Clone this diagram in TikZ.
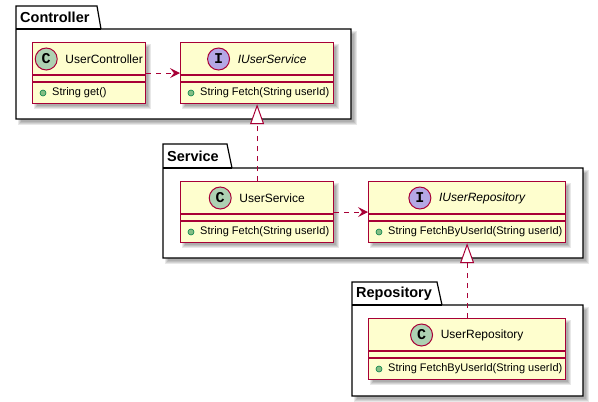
\documentclass[tikz,border=0pt]{standalone}
\usepackage{fontspec}
\setmainfont{Liberation Sans}
\newfontfamily\circfont{Liberation Mono}
\usetikzlibrary{arrows.meta}
\definecolor{clsfill}{HTML}{FEFECE}
\definecolor{clsborder}{HTML}{A80036}
\definecolor{ccirc}{HTML}{ADD1B2}
\definecolor{icirc}{HTML}{B4A7E5}
\definecolor{dotfill}{HTML}{84BE84}
\definecolor{dotborder}{HTML}{038048}
\tikzset{
 clsbox/.style={draw=clsborder, fill=clsfill, line width=1.2pt, inner sep=0pt, anchor=north west},
 pkg/.style={draw=black, fill=white, line width=1.2pt},
 sepline/.style={draw=clsborder, line width=1.2pt},
 circ/.style={circle, draw=clsborder, line width=1pt, minimum size=22pt, inner sep=0pt, font=\circfont\bfseries\fontsize{15}{15}\selectfont},
 cname/.style={anchor=center, inner sep=0pt, font=\fontsize{12}{14}\selectfont},
 member/.style={anchor=west, inner sep=0pt, font=\fontsize{11}{13}\selectfont},
 mdot/.style={circle, draw=dotborder, fill=dotfill, line width=0.6pt, minimum size=6pt, inner sep=0pt},
 dep/.style={draw=clsborder, line width=1pt, dash pattern=on 5pt off 5pt, -{Stealth[length=10pt,width=10pt,inset=4pt]}},
 real/.style={draw=clsborder, line width=1pt, dash pattern=on 5pt off 5pt, -{Triangle[length=20pt,width=14pt,fill=white]}},
 ptitle/.style={anchor=west, inner sep=0pt, font=\bfseries\fontsize{14.5}{16}\selectfont},
}
\newcommand\boxshadow[4]{%
 \foreach \r in {2,1,0,-1}{\fill[black,opacity=0.09] ({#1+4-\r},{#2+4-\r}) rectangle ({#3+4+\r},{#4+4+\r});}}
\newcommand\umlclass[8]{%
 \boxshadow{#2}{#3}{#2+#4}{#3+61}
 \node[clsbox, minimum width=#4pt, minimum height=61pt] (#1) at (#2,#3) {};
 \node[cname] (#1-name) at ([shift={(15pt,-17pt)}]#1.north) {#7};
 \node[circ, fill=#5] (#1-circ) at ([xshift=-19pt]#1-name.west) {#6};
 \draw[sepline] ([yshift=-33pt]#1.north west) -- ([yshift=-33pt]#1.north east);
 \draw[sepline] ([yshift=-40pt]#1.north west) -- ([yshift=-40pt]#1.north east);
 \node[mdot] (#1-dot) at ([shift={(11pt,-51pt)}]#1.north west) {};
 \node[member] (#1-mem) at ([shift={(20pt,-51pt)}]#1.north west) {#8};
}
\begin{document}
\begin{tikzpicture}[x=1pt,y=-1pt]
\useasboundingbox (0,0) rectangle (598,402);
% Controller package
\boxshadow{16}{29}{351}{119}
\draw[pkg] (16,6) -- (97,6) -- (101,29) -- (351,29) -- (351,119) -- (16,119) -- cycle;
\draw[pkg] (16,29) -- (101,29);
\node[ptitle] (pc) at (20,17.5) {Controller};
% Service package
\boxshadow{163}{168}{583}{258}
\draw[pkg] (163,144) -- (227,144) -- (232,168) -- (583,168) -- (583,258) -- (163,258) -- cycle;
\draw[pkg] (163,168) -- (232,168);
\node[ptitle] (ps) at (167,156) {Service};
% Repository package
\boxshadow{352}{305}{583}{396}
\draw[pkg] (352,282) -- (437,282) -- (442,305) -- (583,305) -- (583,396) -- (352,396) -- cycle;
\draw[pkg] (352,305) -- (442,305);
\node[ptitle] (pr) at (356,293.5) {Repository};
% classes
\umlclass{uc}{32}{42}{113}{ccirc}{C}{UserController}{String get()}
\umlclass{ius}{180}{42}{153}{icirc}{I}{\itshape IUserService}{String Fetch(String userId)}
\umlclass{us}{180}{181}{153}{ccirc}{C}{UserService}{String Fetch(String userId)}
\umlclass{iur}{368}{181}{197}{icirc}{I}{\itshape IUserRepository}{String FetchByUserId(String userId)}
\umlclass{ur}{368}{318}{197}{ccirc}{C}{UserRepository}{String FetchByUserId(String userId)}
% relations
\draw[dep] (uc) -- (ius);
\draw[real] (us) -- (ius);
\draw[dep] (us) -- (iur);
\draw[real] (ur) -- (iur);
\end{tikzpicture}
\end{document}
